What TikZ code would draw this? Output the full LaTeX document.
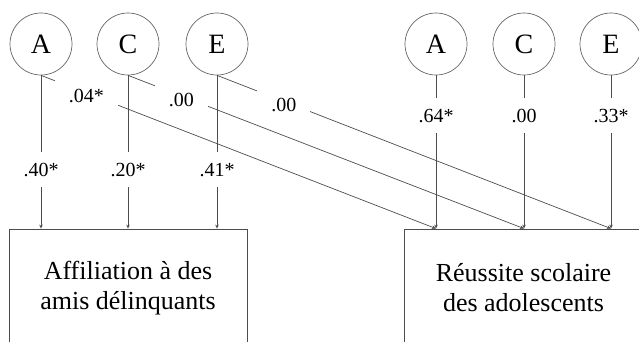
\documentclass[tikz,border=0pt]{standalone}
\usepackage{fontspec}
\setmainfont{Liberation Serif}
\usetikzlibrary{arrows.meta}
\begin{document}
\begin{tikzpicture}[x=1pt,y=-1pt,
  latent/.style={circle, draw=black!60, line width=0.7pt, minimum size=62pt,
    inner sep=0pt, font=\fontsize{28}{30}\selectfont},
  outcome/.style={rectangle, draw=black!70, line width=0.8pt, minimum width=238pt,
    minimum height=118pt, align=center, font=\fontsize{26}{30}\selectfont},
  coef/.style={fill=white, font=\fontsize{20}{22}\selectfont, text height=14pt,
    text depth=0pt, inner xsep=3pt, inner ysep=10.5pt},
  wide/.style={inner xsep=14pt, yshift=-3pt},
  link/.style={draw=black!70, line width=0.7pt, -{Stealth[length=4pt,width=3.5pt]}}
]
\useasboundingbox (0,0) rectangle (639,341);
\clip (0,0) rectangle (639,341);

% outcome boxes (open at the bottom edge)
\node[outcome] (boxL) at (128,288) {Affiliation à des\\amis délinquants};
\node[outcome] (boxR) at (523.5,288) {Réussite scolaire\\des adolescents};

% latent factors
\node[latent] (lA) at (41,44)  {A};
\node[latent] (lC) at (128,44) {C};
\node[latent] (lE) at (217,44) {E};
\node[latent] (rA) at (436,44) {A};
\node[latent] (rC) at (524,44) {C};
\node[latent] (rE) at (611,44) {E};

% paths to peer affiliation
\draw[link] (lA.south) -- node[coef, pos=0.617] (c40) {.40*} (lA |- boxL.north);
\draw[link] (lC.south) -- node[coef, pos=0.617] (c20) {.20*} (lC |- boxL.north);
\draw[link] (lE.south) -- node[coef, pos=0.617] (c41) {.41*} (lE |- boxL.north);

% paths to school achievement
\draw[link] (rA.south) -- node[coef, pos=0.26] (c64) {.64*} (rA |- boxR.north);
\draw[link] (rC.south) -- node[coef, pos=0.26] (c00) {.00} (rC |- boxR.north);
\draw[link] (rE.south) -- node[coef, pos=0.26] (c33) {.33*} (rE |- boxR.north);

% cross paths
\draw[link] (lA.south) -- node[coef, wide, pos=0.115] (x04) {.04*} (rA |- boxR.north);
\draw[link] (lC.south) -- node[coef, wide, pos=0.135] (x00a) {.00} (rC |- boxR.north);
\draw[link] (lE.south) -- node[coef, wide, pos=0.170] (x00b) {.00} (rE |- boxR.north);
\end{tikzpicture}
\end{document}
